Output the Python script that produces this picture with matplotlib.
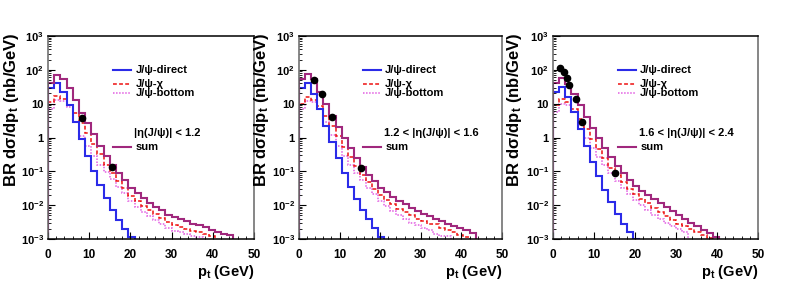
import numpy as np
import matplotlib
matplotlib.use("Agg")
import matplotlib.pyplot as plt

plt.rcParams['font.family'] = ['Liberation Sans', 'DejaVu Sans']
plt.rcParams['font.weight'] = 'bold'
plt.rcParams['mathtext.default'] = 'regular'
plt.rcParams['mathtext.fontset'] = 'custom'
plt.rcParams['mathtext.rm'] = 'Liberation Sans:bold'

# bin width 1.5 GeV, all values are log10(BR dsigma/dpt)
bin_width = 1.5

eta_labels = ["|\u03b7(J/\u03c8)| < 1.2",
              "1.2 < |\u03b7(J/\u03c8)| < 1.6",
              "1.6 < |\u03b7(J/\u03c8)| < 2.4"]

# |eta| < 1.2
direct_1 = [1.45, 1.62, 1.35, 0.95, 0.45, -0.05, -0.55, -1.0, -1.4, -1.8, -2.15, -2.45, -2.7, -2.95]
chi_1 = [1.05, 1.22, 1.15, 0.95, 0.72, 0.42, 0.12, -0.2, -0.5, -0.8, -1.05, -1.28, -1.5, -1.72,
         -1.88, -2.02, -2.15, -2.27, -2.38, -2.5, -2.58, -2.64, -2.7, -2.75, -2.8, -2.85, -2.9]
bottom_1 = [0.85, 1.1, 1.08, 0.9, 0.45, 0.05, -0.25, -0.55, -0.8, -1.02, -1.22, -1.45, -1.65,
            -1.88, -2.05, -2.2, -2.32, -2.45, -2.57, -2.68, -2.75, -2.8, -2.86, -2.9, -2.95]
sum_1 = [1.6, 1.85, 1.72, 1.45, 1.12, 0.72, 0.42, 0.1, -0.25, -0.55, -0.82, -1.05, -1.27, -1.48,
         -1.65, -1.8, -1.93, -2.05, -2.15, -2.28, -2.36, -2.42, -2.48, -2.55, -2.6, -2.66, -2.72,
         -2.78, -2.84, -2.88]
data_pt_1 = [8.2, 15.6]
data_y_1 = [0.58, -0.88]

# 1.2 < |eta| < 1.6
direct_2 = [1.45, 1.62, 1.3, 0.85, 0.35, -0.12, -0.6, -1.05, -1.45, -1.82, -2.15, -2.42, -2.68, -2.95]
chi_2 = [1.0, 1.2, 1.12, 0.92, 0.65, 0.35, 0.05, -0.28, -0.58, -0.85, -1.1, -1.32, -1.52, -1.7,
         -1.85, -1.98, -2.1, -2.2, -2.3, -2.4, -2.48, -2.55, -2.55, -2.68, -2.72, -2.78, -2.88, -2.95]
bottom_2 = [0.85, 1.08, 1.05, 0.85, 0.45, 0.08, -0.25, -0.55, -0.8, -1.05, -1.27, -1.48, -1.68,
            -1.87, -2.02, -2.16, -2.3, -2.42, -2.52, -2.6, -2.68, -2.72, -2.85, -2.9, -2.92]
sum_2 = [1.72, 1.88, 1.72, 1.35, 1.0, 0.65, 0.3, -0.02, -0.32, -0.62, -0.88, -1.1, -1.3, -1.48,
         -1.62, -1.76, -1.88, -1.98, -2.08, -2.17, -2.25, -2.33, -2.4, -2.47, -2.55, -2.62, -2.68,
         -2.74, -2.82]
data_pt_2 = [3.7, 5.6, 8.2, 15.2]
data_y_2 = [1.7, 1.29, 0.6, -0.9]

# 1.6 < |eta| < 2.4
direct_3 = [1.35, 1.5, 1.2, 0.75, 0.25, -0.25, -0.72, -1.15, -1.55, -1.92, -2.25, -2.55, -2.8, -3.0]
chi_3 = [0.95, 1.15, 1.05, 0.85, 0.55, 0.25, -0.05, -0.35, -0.62, -0.9, -1.12, -1.32, -1.52, -1.68,
         -1.82, -1.95, -2.07, -2.2, -2.32, -2.45, -2.57, -2.62, -2.7, -2.8, -2.88, -2.96]
bottom_3 = [0.75, 1.0, 0.95, 0.75, 0.38, 0.0, -0.3, -0.58, -0.82, -1.05, -1.28, -1.48, -1.68,
            -1.85, -2.0, -2.15, -2.28, -2.4, -2.52, -2.62, -2.7, -2.78]
sum_3 = [1.6, 1.75, 1.58, 1.3, 0.95, 0.6, 0.28, -0.02, -0.3, -0.58, -0.83, -1.05, -1.25, -1.42,
         -1.57, -1.7, -1.82, -1.93, -2.05, -2.18, -2.3, -2.42, -2.52, -2.62, -2.72, -2.82, -2.93]
data_pt_3 = [1.7, 2.7, 3.5, 4.0, 5.6, 7.1, 15.1]
data_y_3 = [2.05, 1.95, 1.77, 1.55, 1.14, 0.45, -1.06]

panels = [
    (direct_1, chi_1, bottom_1, sum_1, data_pt_1, data_y_1),
    (direct_2, chi_2, bottom_2, sum_2, data_pt_2, data_y_2),
    (direct_3, chi_3, bottom_3, sum_3, data_pt_3, data_y_3),
]

col_direct = '#2b2be8'
col_chi = '#ee1111'
col_bottom = '#e25de2'
col_sum = '#a0287d'

fig = plt.figure(figsize=(8.06, 2.91), dpi=100)
lefts = [48 / 806, 299 / 806, 553 / 806]
widths = [206 / 806, 203 / 806, 205 / 806]
ylab_x = [-0.13, -0.14, -0.14]


def hist(ax, logvals, **kw):
    vals = 10 ** np.array(logvals)
    edges = np.arange(len(vals) + 1) * bin_width
    ax.stairs(vals, edges, baseline=1e-6, **kw)


for i, (d, c, b, s, px, py) in enumerate(panels):
    ax = fig.add_axes([lefts[i], 1 - 239 / 291, widths[i], 203 / 291])
    hist(ax, b, color=col_bottom, lw=1.1, linestyle=(0, (1, 1)))
    hist(ax, c, color=col_chi, lw=1.1, linestyle=(0, (2.5, 1.5)))
    hist(ax, d, color=col_direct, lw=1.5)
    hist(ax, s, color=col_sum, lw=1.5)
    ax.plot(px, 10 ** np.array(py), 'o', color='black', ms=4.5, zorder=5)

    ax.set_yscale('log')
    ax.set_xlim(0, 50)
    ax.set_ylim(1e-3, 1e3)
    ax.set_xticks([0, 10, 20, 30, 40, 50])
    ax.set_xticks(np.arange(0, 51, 2), minor=True)
    ax.set_yticks([1e-3, 1e-2, 1e-1, 1, 10, 1e2, 1e3])
    ax.set_yticklabels(['$10^{-3}$', '$10^{-2}$', '$10^{-1}$', '1', '10', '$10^{2}$', '$10^{3}$'])
    ax.tick_params(which='both', direction='in', top=False, right=False, labelsize=8.5)
    ax.tick_params(axis='y', labelsize=8)
    ax.tick_params(axis='x', which='major', length=5, pad=7)
    ax.tick_params(axis='y', which='major', length=5, pad=3)
    ax.tick_params(which='minor', length=2.5)
    for sp in ax.spines.values():
        sp.set_linewidth(1.1)
    ax.spines['left'].set_color('#666666')
    ax.spines['right'].set_color('#666666')

    ax.set_xlabel('p$_\\mathregular{t}$ (GeV)', fontsize=10.5, fontweight='bold', loc='right')
    ax.xaxis.set_label_coords(1.0, -0.12)
    ax.set_ylabel('BR d\u03c3/dp$_\\mathregular{t}$ (nb/GeV)', fontsize=12, fontweight='bold', loc='top')
    ax.yaxis.set_label_coords(ylab_x[i], 1.02)

    # legend drawn by hand, like the original
    tr = ax.transAxes
    x0, x1, xt = 0.315, 0.405, 0.425
    fs = 8
    ax.plot([x0, x1], [0.833, 0.833], color=col_direct, lw=1.5, transform=tr)
    ax.text(xt, 0.833, 'J/\u03c8-direct', transform=tr, fontsize=fs, va='center')
    ax.plot([x0, x1], [0.763, 0.763], color=col_chi, lw=1.1, linestyle=(0, (2.5, 1.5)), transform=tr)
    ax.text(xt, 0.763, 'J/\u03c8-\u03c7', transform=tr, fontsize=fs, va='center')
    ax.plot([x0, x1], [0.719, 0.719], color=col_bottom, lw=1.1, linestyle=(0, (1, 1)), transform=tr)
    ax.text(xt, 0.719, 'J/\u03c8-bottom', transform=tr, fontsize=fs, va='center')
    ax.text(0.418, 0.522, eta_labels[i], transform=tr, fontsize=fs, va='center')
    ax.plot([x0, x1], [0.451, 0.451], color=col_sum, lw=1.5, transform=tr)
    ax.text(xt, 0.451, 'sum', transform=tr, fontsize=fs, va='center')

plt.savefig('out.png', dpi=100)
